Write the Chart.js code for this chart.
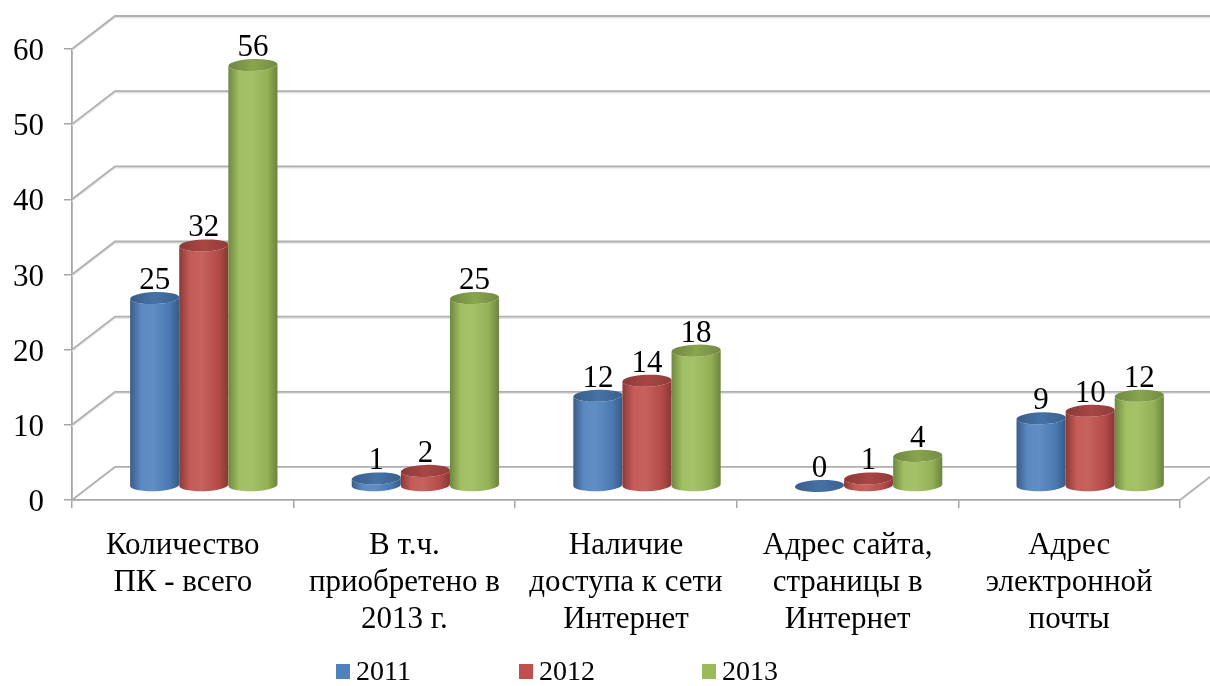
<!DOCTYPE html>
<html>
<head>
<meta charset="utf-8">
<script src="https://cdn.jsdelivr.net/npm/chart.js@4.4.0/dist/chart.umd.min.js"></script>
<style>
  html, body { margin: 0; padding: 0; background: #fff; }
</style>
</head>
<body>
<canvas id="mycanvas" width="1210" height="686"></canvas>
<script>
// chart data
var categories = [
  ['Количество', 'ПК - всего'],
  ['В т.ч.', 'приобретено в', '2013 г.'],
  ['Наличие', 'доступа к сети', 'Интернет'],
  ['Адрес сайта,', 'страницы в', 'Интернет'],
  ['Адрес', 'электронной', 'почты']
];
var years = ['2011', '2012', '2013'];
var values2011 = [25, 1, 12, 0, 9];
var values2012 = [32, 2, 14, 1, 10];
var values2013 = [56, 25, 18, 4, 12];
var yTicks = [0, 10, 20, 30, 40, 50, 60];

var colors = ['#4F81BD', '#C0504D', '#9BBB59'];
var fontFamily = '"Liberation Serif", "Times New Roman", serif';

// fake 3d depth
var wallDx = 43, wallDy = -33;
var barDx = 21, barDy = -14, capRy = 6, tilt = -0.035;

function shade(hex, p) {
  var r = parseInt(hex.substr(1, 2), 16), g = parseInt(hex.substr(3, 2), 16), b = parseInt(hex.substr(5, 2), 16);
  if (p < 0) {
    r = r * (1 + p); g = g * (1 + p); b = b * (1 + p);
  } else {
    r = r + (255 - r) * p; g = g + (255 - g) * p; b = b + (255 - b) * p;
  }
  return 'rgb(' + Math.round(r) + ',' + Math.round(g) + ',' + Math.round(b) + ')';
}

function drawCylinder(ctx, cx, top, base, rx, ry, color) {
  var g = ctx.createLinearGradient(cx - rx, 0, cx + rx, 0);
  g.addColorStop(0, shade(color, -0.28));
  g.addColorStop(0.22, shade(color, 0.06));
  g.addColorStop(0.45, shade(color, 0.1));
  g.addColorStop(0.8, shade(color, -0.06));
  g.addColorStop(1, shade(color, -0.3));

  ctx.beginPath();
  ctx.moveTo(cx - rx, top);
  ctx.lineTo(cx - rx, base);
  ctx.ellipse(cx, base, rx, ry, tilt, Math.PI, 0, true);
  ctx.lineTo(cx + rx, top);
  ctx.ellipse(cx, top, rx, ry, tilt, 0, Math.PI, false);
  ctx.closePath();
  ctx.fillStyle = g;
  ctx.fill();

  // top cap
  var gc = ctx.createLinearGradient(cx - rx, 0, cx + rx, 0);
  gc.addColorStop(0, shade(color, -0.28));
  gc.addColorStop(0.5, shade(color, -0.12));
  gc.addColorStop(1, shade(color, -0.25));
  ctx.beginPath();
  ctx.ellipse(cx, top, rx, ry, tilt, 0, Math.PI * 2);
  ctx.fillStyle = gc;
  ctx.fill();
}

var wallPlugin = {
  id: 'wall',
  beforeDatasetsDraw: function(chart) {
    var ctx = chart.ctx, a = chart.chartArea, y = chart.scales.y;
    ctx.save();
    y.ticks.forEach(function(t) {
      var py = y.getPixelForValue(t.value);
      if (t.value !== 0) {
        ctx.beginPath();
        ctx.moveTo(a.left, py + 1.5);
        ctx.lineTo(a.left + wallDx, py + wallDy + 1.5);
        ctx.lineTo(chart.width + 10, py + wallDy + 1.5);
        ctx.strokeStyle = '#e3e3e3';
        ctx.lineWidth = 1.5;
        ctx.stroke();
      }
      ctx.beginPath();
      ctx.moveTo(a.left, py);
      ctx.lineTo(a.left + wallDx, py + wallDy);
      ctx.lineTo(chart.width + 10, py + wallDy);
      ctx.strokeStyle = '#b0b0b0';
      ctx.lineWidth = 1.8;
      ctx.stroke();
    });
    // right edge of the floor
    ctx.beginPath();
    ctx.moveTo(a.right, a.bottom);
    ctx.lineTo(a.right + wallDx, a.bottom + wallDy);
    ctx.strokeStyle = '#b0b0b0';
    ctx.lineWidth = 1.8;
    ctx.stroke();
    ctx.restore();
  },
  afterDatasetsDraw: function(chart) {
    var ctx = chart.ctx;
    ctx.save();
    chart.data.datasets.forEach(function(ds, i) {
      chart.getDatasetMeta(i).data.forEach(function(bar) {
        drawCylinder(ctx, bar.x + barDx, bar.y + barDy, bar.base + barDy, bar.width / 2, capRy, colors[i]);
      });
    });
    // value labels
    ctx.fillStyle = '#000';
    ctx.font = '31px ' + fontFamily;
    ctx.textAlign = 'center';
    ctx.textBaseline = 'alphabetic';
    chart.data.datasets.forEach(function(ds, i) {
      chart.getDatasetMeta(i).data.forEach(function(bar, j) {
        ctx.fillText(ds.data[j], bar.x + barDx, bar.y + barDy - capRy - 3);
      });
    });
    ctx.restore();
  },
  afterDraw: function(chart) {
    // legend
    var ctx = chart.ctx;
    ctx.save();
    ctx.font = '28px ' + fontFamily;
    ctx.textBaseline = 'middle';
    ctx.textAlign = 'left';
    var spacing = 183, box = 14, cy = 671;
    var lastW = box + 6 + ctx.measureText(years[years.length - 1]).width;
    var x0 = 557 - (spacing * (years.length - 1) + lastW) / 2;
    years.forEach(function(label, i) {
      var x = x0 + i * spacing;
      ctx.fillStyle = colors[i];
      ctx.fillRect(x, cy - box / 2, box, box + 1);
      ctx.fillStyle = '#000';
      ctx.fillText(label, x + box + 6, cy + 2);
    });
    ctx.restore();
  }
};

var ctx1 = document.getElementById('mycanvas');

var chart1 = new Chart(ctx1, {
  type: 'bar',
  data: {
    labels: categories,
    datasets: [
      { label: years[0], data: values2011, backgroundColor: 'rgba(0,0,0,0)', borderWidth: 0 },
      { label: years[1], data: values2012, backgroundColor: 'rgba(0,0,0,0)', borderWidth: 0 },
      { label: years[2], data: values2013, backgroundColor: 'rgba(0,0,0,0)', borderWidth: 0 }
    ]
  },
  options: {
    responsive: false,
    animation: false,
    layout: { padding: { left: 13, right: 30, top: 49, bottom: 29 } },
    datasets: { bar: { barPercentage: 1, categoryPercentage: 0.665 } },
    plugins: {
      legend: { display: false },
      tooltip: { enabled: false }
    },
    scales: {
      x: {
        afterFit: function(scale) {
          scale.paddingLeft = 0;
          scale.paddingRight = 0;
        },
        grid: { drawOnChartArea: false, drawTicks: true, tickLength: 8, color: '#a6a6a6', lineWidth: 1.5 },
        border: { display: true, color: '#a6a6a6', width: 1.8 },
        ticks: {
          color: '#000',
          font: { family: fontFamily, size: 31, lineHeight: 1.194 },
          padding: 19,
          maxRotation: 0,
          autoSkip: false
        }
      },
      y: {
        min: 0,
        max: 60,
        afterBuildTicks: function(scale) {
          scale.ticks = yTicks.map(function(v) { return { value: v }; });
        },
        afterFit: function(scale) {
          // chart.js counts tick padding twice, keep it once
          scale.width = 8 + 20 + 31;
        },
        grid: { drawOnChartArea: false, drawTicks: true, tickLength: 8, color: '#a6a6a6', lineWidth: 1.5 },
        border: { display: true, color: '#a6a6a6', width: 1.8 },
        ticks: {
          color: '#000',
          font: { family: fontFamily, size: 31 },
          padding: 20,
          labelOffset: 3
        }
      }
    }
  },
  plugins: [wallPlugin]
});
</script>
</body>
</html>
